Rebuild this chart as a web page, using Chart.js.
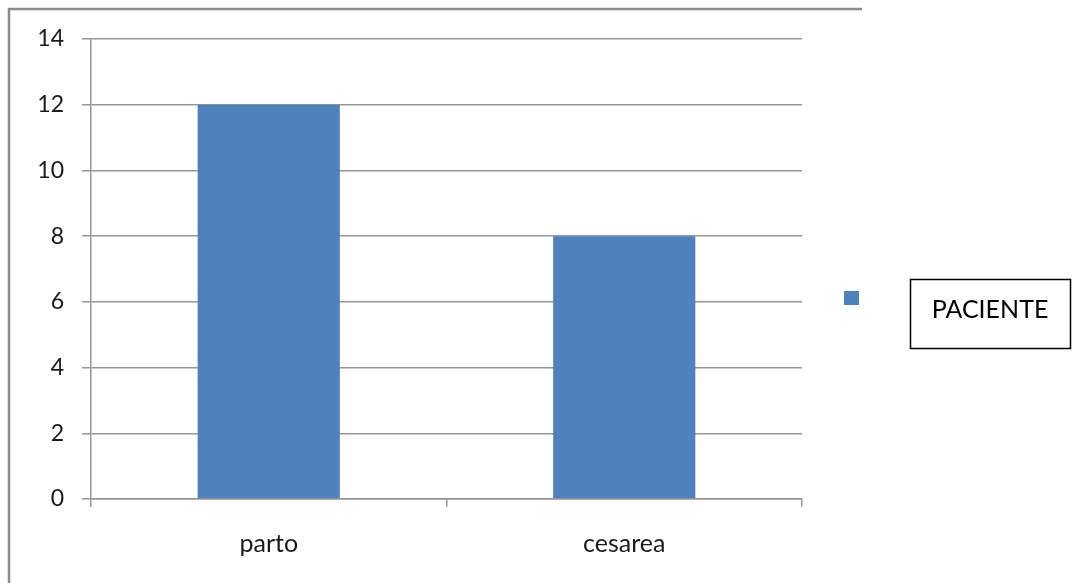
<!DOCTYPE html>
<html>
<head>
<meta charset="utf-8">
<script src="https://cdn.jsdelivr.net/npm/chart.js@4/dist/chart.umd.min.js"></script>
<style>
html,body{margin:0;padding:0;background:#fff;}
#wrap{width:1074px;height:583px;position:relative;}
</style>
</head>
<body>
<div id="wrap"><canvas id="c" width="1074" height="583"></canvas></div>
<script>
const categories = ["parto", "cesarea"];
const seriesName = "PACIENTE";
const seriesValues = [12, 8];
const yTicks = [0, 2, 4, 6, 8, 10, 12, 14];

const FONT = "Lato, 'Open Sans', sans-serif";

const decor = {
  id: 'decor',
  afterDraw(chart) {
    const ctx = chart.ctx;
    ctx.save();
    // outer frame (top and left)
    ctx.strokeStyle = '#8a8a8a';
    ctx.lineWidth = 2.5;
    ctx.beginPath();
    ctx.moveTo(862, 9);
    ctx.lineTo(9, 9);
    ctx.lineTo(9, 583);
    ctx.stroke();
    // legend marker
    ctx.fillStyle = chart.data.datasets[0].backgroundColor;
    ctx.fillRect(844, 291, 15, 14);
    // legend text box
    ctx.strokeStyle = '#000';
    ctx.lineWidth = 1.5;
    ctx.strokeRect(910.5, 279.5, 160, 69);
    ctx.fillStyle = '#000';
    ctx.font = "25px " + FONT;
    ctx.textAlign = 'center';
    ctx.textBaseline = 'middle';
    ctx.fillText(chart.data.datasets[0].label, 990, 310);
    ctx.restore();
  }
};

new Chart(document.getElementById('c'), {
  type: 'bar',
  data: {
    labels: categories,
    datasets: [{
      label: seriesName,
      data: seriesValues,
      backgroundColor: '#4F81BD',
      borderWidth: 0,
      barPercentage: 0.4,
      categoryPercentage: 1.0
    }]
  },
  options: {
    responsive: false,
    animation: false,
    devicePixelRatio: 1,
    layout: { padding: { left: 0, top: 39, right: 272, bottom: 0 } },
    plugins: { legend: { display: false }, tooltip: { enabled: false } },
    scales: {
      x: {
        offset: true,
        grid: { offset: true, drawOnChartArea: false, drawTicks: true, tickLength: 8, color: '#969696', lineWidth: 1.5 },
        border: { color: '#969696', width: 1.5 },
        ticks: { color: '#1a1a1a', font: { family: FONT, size: 25 }, padding: 22 },
        afterFit(s) { s.height = 84; }
      },
      y: {
        min: 0, max: 14,
        afterBuildTicks(s) { s.ticks = yTicks.map(v => ({ value: v })); },
        grid: { color: '#969696', lineWidth: 1.5, tickLength: 9 },
        border: { color: '#969696', width: 1.5 },
        ticks: { color: '#1a1a1a', font: { family: FONT, size: 23 }, padding: 18 },
        afterFit(s) { s.width = 91; }
      }
    }
  },
  plugins: [decor]
});
</script>
</body>
</html>
